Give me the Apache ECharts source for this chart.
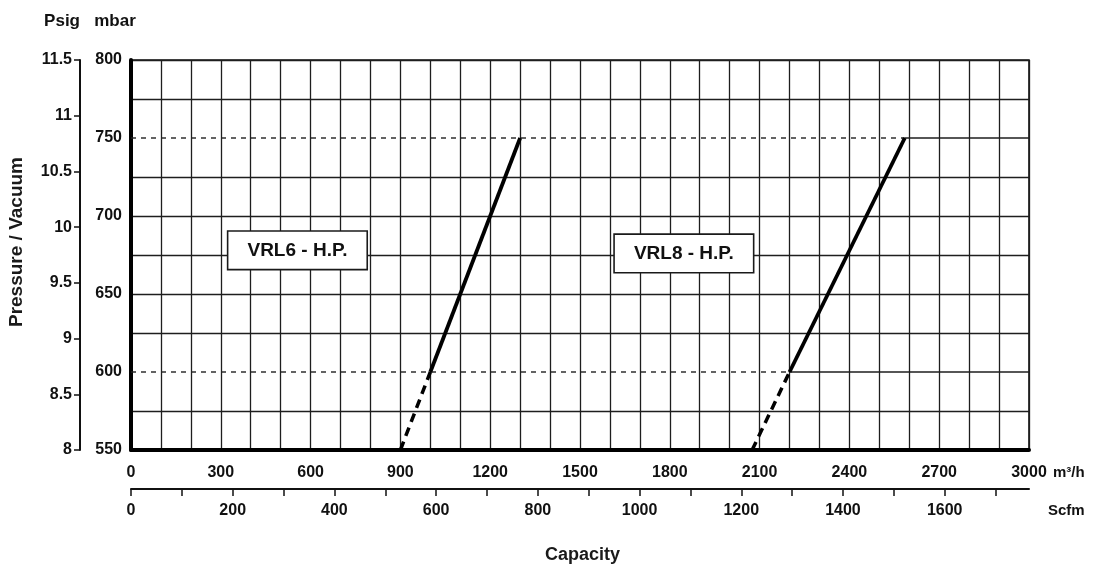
<!DOCTYPE html>
<html>
<head>
<meta charset="utf-8">
<script src="https://cdn.jsdelivr.net/npm/echarts@6/dist/echarts.min.js"></script>
<style>
html,body{margin:0;padding:0;background:#fff;}
#chart{width:1093px;height:565px;}
</style>
</head>
<body>
<div id="chart"></div>
<script>
// ---- data ----
const vrl6Capacity = [900, 1000, 1300];      // m3/h
const vrl6Pressure = [550, 600, 750];        // mbar
const vrl8Capacity = [2075, 2200, 2585];     // m3/h
const vrl8Pressure = [550, 600, 750];        // mbar
const curveNames = ['VRL6 - H.P.', 'VRL8 - H.P.'];
const labelCapacity = [556, 1847];
const labelPressure = [678, 676];
const mbarRange = [550, 800];
const psigRange = [8, 11.5];
const m3hRange = [0, 3000];
const scfmPerM3h = 0.5886;

const FONT = "'Liberation Sans', Arial, sans-serif";
const GRID_COLOR = '#1e1e1e';

function seg(cap, pr, i0, i1) {
  return [[cap[i0], pr[i0]], [cap[i1], pr[i1]]];
}
function lineSeries(data, width, type, color) {
  return {
    type: 'line', data: data, xAxisIndex: 0, yAxisIndex: 0,
    symbol: 'none', silent: true, animation: false,
    lineStyle: {color: color || '#000', width: width, type: type, cap: 'butt'},
    z: 5
  };
}

const series = [
  // reference lines (600 / 750 mbar): dashed up to the VRL8 curve, then plain grid line
  lineSeries([[m3hRange[0], vrl8Pressure[1]], [vrl8Capacity[1], vrl8Pressure[1]]], 1.4, [5, 5], '#222'),
  lineSeries([[vrl8Capacity[1], vrl8Pressure[1]], [m3hRange[1], vrl8Pressure[1]]], 1.3, 'solid', GRID_COLOR),
  lineSeries([[m3hRange[0], vrl8Pressure[2]], [vrl8Capacity[2], vrl8Pressure[2]]], 1.4, [5, 5], '#222'),
  lineSeries([[vrl8Capacity[2], vrl8Pressure[2]], [m3hRange[1], vrl8Pressure[2]]], 1.3, 'solid', GRID_COLOR),
  // curves
  lineSeries(seg(vrl6Capacity, vrl6Pressure, 0, 1), 3.5, [9, 6]),
  lineSeries(seg(vrl6Capacity, vrl6Pressure, 1, 2), 3.8, 'solid'),
  lineSeries(seg(vrl8Capacity, vrl8Pressure, 0, 1), 3.5, [9, 6]),
  lineSeries(seg(vrl8Capacity, vrl8Pressure, 1, 2), 3.8, 'solid'),
  // label boxes
  {
    type: 'scatter', xAxisIndex: 0, yAxisIndex: 0, silent: true, animation: false,
    data: curveNames.map((n, i) => ({name: n, value: [labelCapacity[i], labelPressure[i]]})),
    symbol: 'circle', symbolSize: 1,
    itemStyle: {color: '#fff', opacity: 1},
    label: {show: true, position: 'inside', formatter: p => p.name, opacity: 1,
            color: '#111', fontFamily: FONT, fontWeight: 'bold', fontSize: 19,
            backgroundColor: '#fff', borderColor: '#1a1a1a', borderWidth: 1.6,
            width: 138, height: 37, lineHeight: 37, align: 'center', verticalAlign: 'middle',
            padding: [0, 0, 0, 0]},
    z: 10
  }
];

const chart = echarts.init(document.getElementById('chart'), null, {renderer: 'canvas'});
chart.setOption({
  animation: false,
  backgroundColor: '#fff',
  grid: {left: 131, right: 64, top: 60, bottom: 115, show: true,
         borderColor: '#111', borderWidth: 1.6, backgroundColor: 'transparent'},
  xAxis: [
    {
      type: 'value', position: 'bottom', min: m3hRange[0], max: m3hRange[1], interval: 300,
      axisLine: {show: true, onZero: false, lineStyle: {color: '#000', width: 4}},
      axisTick: {show: false},
      minorTick: {show: false, splitNumber: 3},
      splitLine: {show: true, lineStyle: {color: GRID_COLOR, width: 1.3}},
      minorSplitLine: {show: true, lineStyle: {color: GRID_COLOR, width: 1.3}},
      axisLabel: {margin: 15, fontFamily: FONT, fontWeight: 'bold', fontSize: 16, color: '#111',
                  formatter: v => String(v)}
    },
    {
      type: 'value', position: 'bottom', offset: 39,
      min: m3hRange[0] * scfmPerM3h, max: m3hRange[1] * scfmPerM3h, interval: 100,
      axisLine: {show: true, onZero: false, lineStyle: {color: '#111', width: 2}},
      axisTick: {show: true, length: 7, inside: false, lineStyle: {color: '#111', width: 1.5}},
      splitLine: {show: false},
      axisLabel: {margin: 14, fontFamily: FONT, fontWeight: 'bold', fontSize: 16, color: '#111',
                  showMaxLabel: false,
                  formatter: v => (Math.abs(v % 200) < 1e-6 ? String(v) : '')}
    }
  ],
  yAxis: [
    {
      type: 'value', position: 'left', min: mbarRange[0], max: mbarRange[1], interval: 50,
      name: 'mbar', nameLocation: 'end', nameGap: 39,
      nameTextStyle: {fontFamily: FONT, fontWeight: 'bold', fontSize: 17, color: '#111',
                      align: 'center', verticalAlign: 'middle', padding: [0, 32, 0, 0]},
      axisLine: {show: true, onZero: false, lineStyle: {color: '#000', width: 4}},
      axisTick: {show: false},
      minorTick: {show: false, splitNumber: 2},
      splitLine: {show: true, lineStyle: {
        color: [GRID_COLOR, 'rgba(0,0,0,0)', GRID_COLOR, GRID_COLOR, 'rgba(0,0,0,0)', GRID_COLOR],
        width: 1.3}},
      minorSplitLine: {show: true, lineStyle: {color: GRID_COLOR, width: 1.3}},
      axisLabel: {margin: 9, fontFamily: FONT, fontWeight: 'bold', fontSize: 16, color: '#111'}
    },
    {
      type: 'value', position: 'left', offset: 51, min: psigRange[0], max: psigRange[1], interval: 0.5,
      name: 'Psig', nameLocation: 'end', nameGap: 39,
      nameTextStyle: {fontFamily: FONT, fontWeight: 'bold', fontSize: 17, color: '#111',
                      align: 'right', verticalAlign: 'middle'},
      axisLine: {show: true, onZero: false, lineStyle: {color: '#111', width: 2}},
      axisTick: {show: true, length: 6, inside: false, lineStyle: {color: '#111', width: 1.5}},
      splitLine: {show: false},
      axisLabel: {margin: 8, fontFamily: FONT, fontWeight: 'bold', fontSize: 16, color: '#111'}
    }
  ],
  graphic: [
    {type: 'text', left: 545, top: 546,
     style: {text: 'Capacity', fontFamily: FONT, fontWeight: 'bold', fontSize: 18, fill: '#1a1a1a'}},
    {type: 'text', x: 17, y: 242, rotation: Math.PI / 2,
     style: {text: 'Pressure / Vacuum', fontFamily: FONT, fontWeight: 'bold', fontSize: 19, fill: '#1a1a1a',
             align: 'center', verticalAlign: 'middle'}},
    {type: 'text', x: 1053, y: 473,
     style: {text: 'm³/h', fontFamily: FONT, fontWeight: 'bold', fontSize: 15, fill: '#111',
             align: 'left', verticalAlign: 'middle'}},
    {type: 'text', x: 1048, y: 511,
     style: {text: 'Scfm', fontFamily: FONT, fontWeight: 'bold', fontSize: 15, fill: '#111',
             align: 'left', verticalAlign: 'middle'}}
  ],
  series: series
});
</script>
</body>
</html>
